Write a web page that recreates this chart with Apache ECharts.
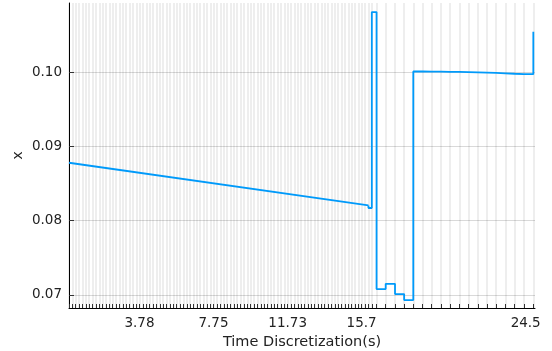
<!DOCTYPE html>
<html>
<head>
<meta charset="utf-8">
<script src="https://cdn.jsdelivr.net/npm/echarts@6/dist/echarts.min.js"></script>
<style>
  html, body { margin: 0; padding: 0; background: #ffffff; }
  #chart { width: 552px; height: 351px; }
</style>
</head>
<body>
<div id="chart"></div>
<script>
// Time discretization points (s): fine steps, then coarse steps
const fineTimes = [
  0, 0.1805, 0.361, 0.5415, 0.722, 0.9025, 1.083, 1.2635, 1.444, 1.6245,
  1.805, 1.9855, 2.166, 2.3465, 2.527, 2.7075, 2.888, 3.0685, 3.249, 3.4295,
  3.61, 3.7905, 3.971, 4.1515, 4.332, 4.5125, 4.693, 4.8735, 5.054, 5.2345,
  5.415, 5.5955, 5.776, 5.9565, 6.137, 6.3175, 6.498, 6.6785, 6.859, 7.0395,
  7.22, 7.4005, 7.581, 7.7615, 7.942, 8.1225, 8.303, 8.4835, 8.664, 8.8445,
  9.025, 9.2055, 9.386, 9.5665, 9.747, 9.9275, 10.108, 10.2885, 10.469, 10.6495,
  10.83, 11.0105, 11.191, 11.3715, 11.552, 11.7325, 11.913, 12.0935, 12.274, 12.4545,
  12.635, 12.8155, 12.996, 13.1765, 13.357, 13.5375, 13.718, 13.8985, 14.079, 14.2595,
  14.44, 14.6205, 14.801, 14.9815, 15.162, 15.3425, 15.523, 15.7035, 15.884, 16.0645,
  16.245
];
const coarseTimes = [
  16.5, 16.99, 17.49, 17.98, 18.47, 18.97, 19.46, 19.95, 20.45, 20.94,
  21.43, 21.93, 22.42, 22.91, 23.41, 23.9, 24.4, 24.91
];

// Axis tick labels
const xTickLabels = [3.78, 7.75, 11.73, 15.7, 24.5];
const yTickValues = [0.07, 0.08, 0.09, 0.10];

// Smooth decay of x before the switching events
const rampTimes  = [0, 16.0645];
const rampValues = [0.0878, 0.08205];

// Piecewise-constant part (value holds until the next time)
const stepTimes = [
  16.0645, 16.0645, 16.245, 16.5, 16.99, 17.49, 17.98, 18.47, 18.97, 19.46,
  19.95, 20.45, 20.94, 21.43, 21.93, 22.42, 22.91, 23.41, 23.9, 24.4, 24.91
];
const stepValues = [
  0.08205, 0.08171, 0.10808, 0.0708, 0.0715, 0.07012, 0.06931, 0.10008, 0.10007, 0.10006,
  0.10004, 0.10002, 0.10000, 0.09997, 0.09994, 0.09990, 0.09984, 0.09978, 0.09973, 0.09972, 0.10543
];

const gridTimes = fineTimes.concat(coarseTimes);
const lineColor = '#009AFA';
const textColor = '#222222';
const fontFamily = 'DejaVu Sans, sans-serif';

const chart = echarts.init(document.getElementById('chart'), null, { renderer: 'canvas' });

chart.setOption({
  animation: false,
  backgroundColor: '#ffffff',
  grid: { left: 69, right: 17, top: 3, bottom: 43, outerBoundsMode: 'none', containLabel: false },
  xAxis: {
    type: 'value',
    min: 0,
    max: 25,
    name: 'Time Discretization(s)',
    nameLocation: 'middle',
    nameGap: 26,
    nameTextStyle: { color: textColor, fontSize: 14.5, fontFamily: fontFamily },
    axisLine: { show: true, onZero: false, lineStyle: { color: '#000000', width: 1 } },
    axisTick: {
      show: true, inside: true, length: 4,
      customValues: gridTimes,
      lineStyle: { color: '#333333', width: 1 }
    },
    axisLabel: {
      show: true, margin: 8,
      customValues: xTickLabels,
      formatter: v => String(v),
      color: textColor, fontSize: 13.5, fontFamily: fontFamily
    },
    splitLine: { show: true, lineStyle: { color: 'rgba(0,0,0,0.09)', width: 1.5 } }
  },
  yAxis: {
    type: 'value',
    min: 0.06825,
    max: 0.1093,
    name: 'x',
    nameLocation: 'middle',
    nameGap: 43,
    nameMoveOverlap: false,
    nameTextStyle: { color: textColor, fontSize: 14.5, fontFamily: fontFamily },
    axisLine: { show: true, lineStyle: { color: '#000000', width: 1 } },
    axisTick: {
      show: true, inside: true, length: 5,
      customValues: yTickValues,
      lineStyle: { color: '#333333', width: 1 }
    },
    axisLabel: {
      show: true, margin: 7,
      customValues: yTickValues,
      formatter: v => v.toFixed(2),
      color: textColor, fontSize: 13.5, fontFamily: fontFamily
    },
    splitLine: { show: true, lineStyle: { color: 'rgba(0,0,0,0.15)', width: 1 } }
  },
  series: [
    {
      type: 'line',
      data: rampTimes.map((t, i) => [t, rampValues[i]]),
      showSymbol: false,
      lineStyle: { color: lineColor, width: 1.8 },
      z: 3
    },
    {
      type: 'line',
      step: 'end',
      data: stepTimes.map((t, i) => [t, stepValues[i]]),
      showSymbol: false,
      lineStyle: { color: lineColor, width: 1.8 },
      z: 3
    }
  ]
});
</script>
</body>
</html>
